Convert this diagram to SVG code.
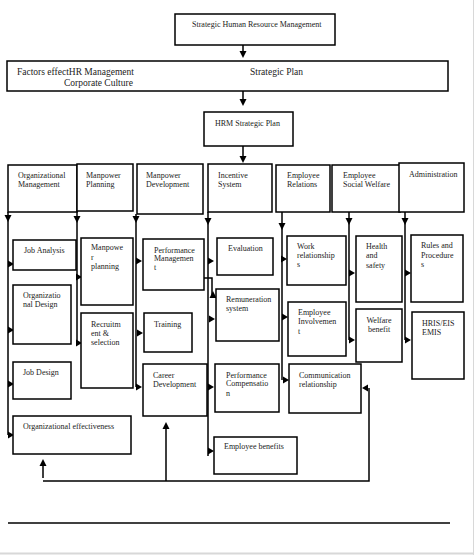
<svg xmlns="http://www.w3.org/2000/svg" xmlns:xlink="http://www.w3.org/1999/xlink" width="474" height="555" viewBox="0 0 474 555">
<style>
.b{fill:#fff;stroke:#000;stroke-width:1.5}
.c{fill:none;stroke:#000;stroke-width:1.5}
text{font-family:"Liberation Serif","Times New Roman",serif;font-size:8px;fill:#222}
.big{font-size:9.5px}
.h{fill:#000}
</style>
<defs>
<path id="ar" class="h" d="M0,0 L-6,-3.5 L-6,3.5 Z"/>
<path id="ad" class="h" d="M0,0 L-3.5,-7 L3.5,-7 Z"/>
<path id="au" class="h" d="M0,0 L-3.5,7 L3.5,7 Z"/>
<path id="al" class="h" d="M0,0 L6,-3.5 L6,3.5 Z"/>
</defs>
<rect x="0" y="0" width="474" height="555" fill="#fff"/>
<line x1="473.5" y1="0" x2="473.5" y2="555" stroke="#d8d8d8" stroke-width="1"/>
<line x1="0" y1="553.5" x2="474" y2="553.5" stroke="#d8d8d8" stroke-width="2"/>

<g id="connectors">
<path class="c" d="M243,45 V52 M243,91 V100 M243,146 V157"/>
<use href="#ad" x="243" y="58"/>
<use href="#ad" x="243" y="106"/>
<use href="#ad" x="243" y="163"/>
<path class="c" d="M8,212 V435"/>
<use href="#ad" x="8" y="222"/>
<use href="#ar" x="14" y="264"/><use href="#ar" x="14" y="330"/><use href="#ar" x="14" y="384"/><use href="#ar" x="14" y="435"/>
<path class="c" d="M77,211 V343"/>
<use href="#ad" x="77" y="223"/>
<use href="#ar" x="82" y="277"/><use href="#ar" x="82" y="343"/>
<path class="c" d="M136,214 V387"/>
<use href="#ad" x="136" y="223"/>
<use href="#ar" x="142" y="261"/><use href="#ar" x="143" y="333"/><use href="#ar" x="142" y="387"/>
<path class="c" d="M208,212 V456"/>
<use href="#ad" x="208" y="225"/>
<use href="#ar" x="214" y="261"/><use href="#ar" x="215" y="319"/><use href="#ar" x="214" y="387"/><use href="#ar" x="214" y="451"/>
<path class="c" d="M204,278 H212 V298"/>
<use href="#au" x="213" y="291"/>
<path class="c" d="M282,212 V380"/>
<use href="#ad" x="282" y="230"/>
<use href="#ar" x="287" y="259"/><use href="#ar" x="288" y="317"/><use href="#ar" x="289" y="380"/>
<path class="c" d="M349,209 V340"/>
<use href="#ad" x="349" y="225"/>
<use href="#ar" x="355" y="273"/><use href="#ar" x="355" y="340"/>
<path class="c" d="M405,212 V340"/>
<use href="#ad" x="405" y="225"/>
<use href="#ar" x="411" y="273"/><use href="#ar" x="411" y="340"/>
<path class="c" d="M43,466 V478 M43,481 H369 V388 M166,481 V428"/>
<use href="#au" x="43" y="459"/>
<use href="#au" x="166" y="422"/>
<use href="#al" x="362" y="388"/>
<line x1="8" y1="523" x2="450" y2="523" stroke="#000" stroke-width="1.5"/>
</g>

<g id="shrm"><rect class="b" x="175" y="14" width="160" height="31"/><text x="192" y="27">Strategic Human Resource Management</text></g>
<g id="factors"><rect class="b" x="7" y="61" width="441" height="30"/>
<text class="big" x="17" y="75">Factors effectHR Management</text>
<text class="big" x="64" y="86">Corporate Culture</text>
<text class="big" x="250" y="75">Strategic Plan</text></g>
<g id="hrmplan"><rect class="b" x="204" y="112" width="89" height="34"/><text x="215" y="126">HRM Strategic Plan</text></g>

<g id="orgmgmt"><rect class="b" x="8" y="165" width="69" height="47"/><text x="18" y="178">Organizational</text><text x="18" y="187">Management</text></g>
<g id="mpplanning"><rect class="b" x="77" y="164" width="56" height="47"/><text x="86" y="178">Manpower</text><text x="86" y="187">Planning</text></g>
<g id="mpdev"><rect class="b" x="137" y="164" width="66" height="50"/><text x="146" y="178">Manpower</text><text x="146" y="187">Development</text></g>
<g id="incentive"><rect class="b" x="208" y="164" width="64" height="48"/><text x="218" y="178">Incentive</text><text x="218" y="187">System</text></g>
<g id="emprel"><rect class="b" x="276" y="165" width="54" height="47"/><text x="287" y="178">Employee</text><text x="287" y="187">Relations</text></g>
<g id="socwelfare"><rect class="b" x="332" y="165" width="68" height="47"/><text x="343" y="178">Employee</text><text x="343" y="187">Social Welfare</text></g>
<g id="admin"><rect class="b" x="399" y="163" width="65" height="49"/><text x="409" y="177">Administration</text></g>

<g id="jobanalysis"><rect class="b" x="13" y="240" width="63" height="30"/><text x="24" y="253">Job Analysis</text></g>
<g id="orgdesign"><rect class="b" x="13" y="285" width="58" height="59"/><text x="23" y="298">Organizatio</text><text x="23" y="307">nal Design</text></g>
<g id="jobdesign"><rect class="b" x="13" y="362" width="58" height="37"/><text x="23" y="375">Job Design</text></g>
<g id="orgeff"><rect class="b" x="13" y="416" width="118" height="38"/><text x="23" y="429">Organizational effectiveness</text></g>

<g id="mpplan2"><rect class="b" x="81" y="238" width="52" height="67"/><text x="91" y="250">Manpowe</text><text x="91" y="260">r</text><text x="91" y="269">planning</text></g>
<g id="recruit"><rect class="b" x="81" y="313" width="52" height="75"/><text x="91" y="327">Recruitm</text><text x="91" y="336">ent &amp;</text><text x="91" y="345">selection</text></g>

<g id="perfmgmt"><rect class="b" x="143" y="239" width="61" height="51"/><text x="154" y="253">Performance</text><text x="154" y="261">Managemen</text><text x="154" y="270">t</text></g>
<g id="training"><rect class="b" x="144" y="313" width="48" height="39"/><text x="154" y="327">Training</text></g>
<g id="career"><rect class="b" x="143" y="364" width="64" height="52"/><text x="153" y="378">Career</text><text x="153" y="387">Development</text></g>

<g id="evaluation"><rect class="b" x="217" y="238" width="56" height="37"/><text x="228" y="251">Evaluation</text></g>
<g id="remuneration"><rect class="b" x="216" y="289" width="63" height="52"/><text x="226" y="302">Remuneration</text><text x="226" y="311">system</text></g>
<g id="perfcomp"><rect class="b" x="215" y="364" width="64" height="48"/><text x="226" y="378">Performance</text><text x="226" y="386">Compensatio</text><text x="226" y="396">n</text></g>
<g id="benefits"><rect class="b" x="214" y="437" width="83" height="37"/><text x="224" y="449">Employee benefits</text></g>

<g id="workrel"><rect class="b" x="287" y="236" width="59" height="49"/><text x="297" y="249">Work</text><text x="297" y="258">relationship</text><text x="297" y="267">s</text></g>
<g id="involvement"><rect class="b" x="288" y="302" width="58" height="54"/><text x="298" y="315">Employee</text><text x="298" y="324">Involvemen</text><text x="298" y="334">t</text></g>
<g id="comm"><rect class="b" x="289" y="364" width="72" height="49"/><text x="299" y="378">Communication</text><text x="299" y="387">relationship</text></g>

<g id="health"><rect class="b" x="356" y="236" width="46" height="66"/><text x="366" y="249">Health</text><text x="366" y="258">and</text><text x="366" y="268">safety</text></g>
<g id="welfare"><rect class="b" x="356" y="309" width="46" height="53"/><text x="379" y="323" text-anchor="middle">Welfare</text><text x="379" y="332" text-anchor="middle">benefit</text></g>

<g id="rules"><rect class="b" x="411" y="235" width="52" height="67"/><text x="421" y="248">Rules and</text><text x="421" y="258">Procedure</text><text x="421" y="267">s</text></g>
<g id="hris"><rect class="b" x="412" y="312" width="52" height="67"/><text x="422" y="326">HRIS/EIS</text><text x="422" y="335">EMIS</text></g>
</svg>
